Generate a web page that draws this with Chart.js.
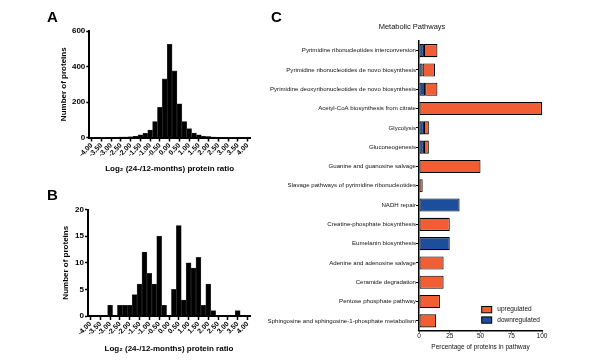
<!DOCTYPE html>
<html>
<head>
<meta charset="utf-8">
<script src="https://cdn.jsdelivr.net/npm/chart.js@4"></script>
<style>
  html, body { margin: 0; padding: 0; background: #fff; }
  #wrap { position: relative; width: 600px; height: 360px; overflow: hidden; }
  canvas { position: absolute; }
  .lbl { position: absolute; font: bold 15px "Liberation Sans", Arial, sans-serif; line-height: 15px; color: #000; }
  .ttl { position: absolute; left: 352px; width: 120px; top: 22px; line-height: 10px; text-align: center;
         font: 7.5px "Liberation Sans", Arial, sans-serif; color: #111; }
</style>
</head>
<body>
<div id="wrap">
  <canvas id="chartA" width="270" height="180" style="left:0;top:0"></canvas>
  <canvas id="chartB" width="270" height="180" style="left:0;top:180px"></canvas>
  <canvas id="chartC" width="350" height="360" style="left:250px;top:0"></canvas>
  <div class="lbl" style="left:47px;top:9px">A</div>
  <div class="lbl" style="left:47px;top:187px">B</div>
  <div class="lbl" style="left:271px;top:9px">C</div>
  <div class="ttl">Metabolic Pathways</div>
</div>
<script>
// histogram bins (log2 ratio, 0.25 wide)
const BINS = ['-4.00','-3.75','-3.50','-3.25','-3.00','-2.75','-2.50','-2.25','-2.00','-1.75','-1.50','-1.25','-1.00','-0.75','-0.50','-0.25','0.00','0.25','0.50','0.75','1.00','1.25','1.50','1.75','2.00','2.25','2.50','2.75','3.00','3.25','3.50','3.75','4.00']
const COUNTS_A = [1,0,1,1,2,2,3,3,4,7,15,24,42,90,170,330,525,375,190,90,50,25,15,8,5,3,2,2,1,1,1,0,1]
const COUNTS_B = [0,0,0,0,2,0,2,2,2,4,6,12,8,6,15,2,0,5,17,3,10,9,11,2,6,1,0,0,0,0,1,0,0]

// panel C
const PATHWAYS = [
  'Pyrimidine ribonucleotides interconversion',
  'Pyrimidine ribonucleotides de novo biosynthesis',
  'Pyrimidine deoxyribonucleotides de novo biosynthesis',
  'Acetyl-CoA biosynthesis from citrate',
  'Glycolysis',
  'Gluconeogenesis',
  'Guanine and guanosine salvage',
  'Slavage pathways of pyrimidine ribonucleotides',
  'NADH repair',
  'Creatine-phosphate biosynthesis',
  'Eumelanin biosynthesis',
  'Adenine and adenosine salvage',
  'Ceramide degradation',
  'Pentose phosphate pathway',
  'Sphingosine and sphingosine-1-phosphate metabolism'
]
const DOWN = [4,3,5,null,4,4,null,null,33,null,25,null,null,null,null]
const UP   = [11,10,10,100,4,4,50,3,null,25,null,20,20,17,14]
const PCT_TICKS = [0,25,50,75,100]

const FONT = '"Liberation Sans", Arial, Helvetica, sans-serif'
const ORANGE = '#F15E33'
const BLUE = '#1D4E9C'

function histChart(id, counts, yMax, yStep, g) {
  return new Chart(document.getElementById(id), {
    type: 'bar',
    data: {
      labels: BINS,
      datasets: [{ data: counts, backgroundColor: '#000', borderColor: '#3c3c3c', borderWidth: 0.6,
                   barPercentage: 1, categoryPercentage: 1 }]
    },
    options: {
      responsive: false, animation: false, devicePixelRatio: 1,
      layout: { padding: { left: g.padL, top: g.top, right: g.padR, bottom: g.padB } },
      plugins: { legend: { display: false }, tooltip: { enabled: false } },
      scales: {
        x: {
          grid: { drawOnChartArea: false, offset: false, tickLength: 4, tickWidth: 1.5,
                  tickColor: c => c.index % 2 ? 'rgba(0,0,0,0)' : '#000' },
          border: { color: '#000', width: 2 },
          ticks: { autoSkip: false, minRotation: 45, maxRotation: 45, padding: 0, color: '#000',
                   font: { family: FONT, size: 7, weight: 'bold' },
                   callback: (v, i) => i % 2 ? '' : BINS[i] },
          title: { display: true, text: 'Log\u2082 (24-/12-months) protein ratio', color: '#000',
                   font: { family: FONT, size: 8, weight: 'bold' }, padding: { top: 2, bottom: 2 } },
          afterFit: s => { s.height = g.xH }
        },
        y: {
          min: 0, max: yMax,
          grid: { drawOnChartArea: false, tickLength: 3, tickWidth: 1.5, tickColor: '#000' },
          border: { color: '#000', width: 2 },
          ticks: { stepSize: yStep, padding: 1, color: '#000', font: { family: FONT, size: 8, weight: 'bold' } },
          title: { display: true, text: 'Number of proteins', color: '#000',
                   font: { family: FONT, size: 8, weight: 'bold' }, padding: 0 },
          afterFit: s => { s.width = g.yW }
        }
      }
    }
  })
}

histChart('chartA', COUNTS_A, 600, 200, { padL: 59, top: 31, padR: 20, padB: 4, xH: 38.5, yW: 30.3 })
histChart('chartB', COUNTS_B, 20, 5, { padL: 61, top: 29.5, padR: 20, padB: 4, xH: 40, yW: 27 })

// legend drawn inside the plot, bottom right
const insideLegend = {
  id: 'insideLegend',
  afterDraw(chart) {
    const { ctx, chartArea: a } = chart
    const items = [chart.data.datasets[1], chart.data.datasets[0]]
    ctx.save()
    ctx.font = '6.5px ' + FONT
    ctx.textBaseline = 'middle'
    items.forEach((ds, i) => {
      const y = a.bottom - 21 + i * 10.4
      ctx.fillStyle = ds.backgroundColor
      ctx.fillRect(a.right - 60.3, y - 3, 10, 6.3)
      ctx.strokeStyle = '#000'
      ctx.lineWidth = 1
      ctx.strokeRect(a.right - 60.3, y - 3, 10, 6.3)
      ctx.fillStyle = '#111'
      ctx.fillText(ds.label, a.right - 44.7, y)
    })
    ctx.restore()
  }
}

new Chart(document.getElementById('chartC'), {
  type: 'bar',
  data: {
    labels: PATHWAYS,
    datasets: [
      { label: 'downregulated', data: DOWN, backgroundColor: BLUE, borderColor: '#000', borderWidth: 1.1, borderSkipped: false },
      { label: 'upregulated', data: UP, backgroundColor: ORANGE, borderColor: '#000', borderWidth: 1.1, borderSkipped: false }
    ]
  },
  options: {
    indexAxis: 'y',
    responsive: false, animation: false, devicePixelRatio: 1,
    datasets: { bar: { barPercentage: 0.68, categoryPercentage: 1 } },
    layout: { padding: { left: 0, top: 41, right: 58, bottom: 7 } },
    plugins: { legend: { display: false }, tooltip: { enabled: false } },
    scales: {
      x: {
        stacked: true, min: 0, max: 100,
        afterBuildTicks: s => { s.ticks = PCT_TICKS.map(v => ({ value: v })) },
        grid: { drawOnChartArea: false, tickLength: 2, tickWidth: 1, tickColor: '#000' },
        border: { color: '#000', width: 1.5 },
        ticks: { padding: 0, color: '#111', font: { family: FONT, size: 6.5 } },
        title: { display: true, text: 'Percentage of proteins in pathway', color: '#111',
                 font: { family: FONT, size: 6.5 }, padding: { top: 2, bottom: 2 } },
        afterFit: s => { s.height = 22.5 }
      },
      y: {
        stacked: true,
        grid: { drawOnChartArea: false, offset: false, tickLength: 3, tickWidth: 1, tickColor: '#000' },
        border: { color: '#000', width: 1.5 },
        ticks: { autoSkip: false, padding: 0, color: '#111', font: { family: FONT, size: 6.1 } },
        afterFit: s => { s.width = 169 }
      }
    }
  },
  plugins: [insideLegend]
})
</script>
</body>
</html>
